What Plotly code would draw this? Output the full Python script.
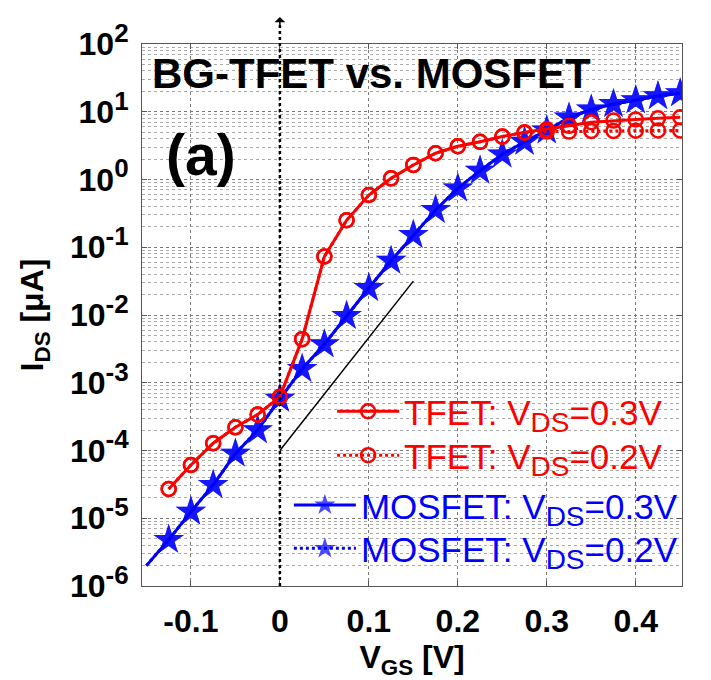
import plotly.graph_objects as go

# ---------------- data ----------------
vgs_mos = [-0.15, -0.125, -0.1, -0.075, -0.05, -0.025, 0.0, 0.025, 0.05, 0.075, 0.1, 0.125,
           0.15, 0.175, 0.2, 0.225, 0.25, 0.275, 0.3, 0.325, 0.35, 0.375, 0.4, 0.425, 0.45]
mos_03 = [2.0e-6, 4.8e-6, 1.25e-5, 3.1e-5, 9.0e-5, 2.0e-4, 5.8e-4, 1.6e-3, 3.7e-3, 9.7e-3, 0.025, 0.063,
          0.152, 0.355, 0.74, 1.35, 2.35, 3.6, 5.3, 8.2, 10.8, 13.0, 14.8, 17.0, 18.7]
mos_02 = [2.0e-6, 4.8e-6, 1.25e-5, 3.1e-5, 9.0e-5, 2.0e-4, 5.8e-4, 1.6e-3, 3.7e-3, 9.7e-3, 0.025, 0.063,
          0.152, 0.355, 0.74, 1.35, 2.35, 3.6, 5.3, 8.2, 10.8, 13.0, 14.8, 17.0, 18.7]

vgs_tfet = [-0.125, -0.1, -0.075, -0.05, -0.025, 0.0, 0.025, 0.05, 0.075, 0.1, 0.125, 0.15,
            0.175, 0.2, 0.225, 0.25, 0.275, 0.3, 0.325, 0.35, 0.375, 0.4, 0.425, 0.45]
tfet_03 = [2.7e-5, 6.1e-5, 1.28e-4, 2.2e-4, 3.4e-4, 6.2e-4, 4.4e-3, 0.073, 0.25, 0.59, 1.04, 1.64,
           2.44, 3.1, 3.6, 4.3, 5.0, 5.5, 6.2, 7.0, 7.4, 7.7, 8.0, 8.3]
tfet_02 = [2.7e-5, 6.1e-5, 1.28e-4, 2.2e-4, 3.4e-4, 6.2e-4, 4.4e-3, 0.073, 0.25, 0.59, 1.04, 1.64,
           2.44, 3.1, 3.6, 4.3, 4.9, 5.1, 5.1, 5.2, 5.2, 5.25, 5.3, 5.3]

# 60 mV/dec reference slope line
ref_x = [0.0, 0.15]
ref_y = [1.0e-4, 3.16e-2]

x_tickvals = [-0.1, 0.0, 0.1, 0.2, 0.3, 0.4]
x_ticktext = ["-0.1", "0", "0.1", "0.2", "0.3", "0.4"]
y_exponents = [-6, -5, -4, -3, -2, -1, 0, 1, 2]

SUB = "<sub><span style='font-size:28px'>DS</span></sub>"
labels = {
    "tfet_03": "TFET: V" + SUB + "=0.3V",
    "tfet_02": "TFET: V" + SUB + "=0.2V",
    "mos_03": "MOSFET: V" + SUB + "=0.3V",
    "mos_02": "MOSFET: V" + SUB + "=0.2V",
}

RED = "#ff0000"
BLUE = "#0000ff"
FONT = "Arial, Liberation Sans, sans-serif"

fig = go.Figure()

star_sizes = [0] + [23] * (len(vgs_mos) - 1)

fig.add_trace(go.Scatter(
    x=vgs_mos, y=mos_03, mode="lines+markers", name=labels["mos_03"], legend="legend3",
    line=dict(color=BLUE, width=3),
    marker=dict(symbol="star", size=star_sizes, color=BLUE, line=dict(width=0)),
))
fig.add_trace(go.Scatter(
    x=vgs_mos, y=mos_02, mode="lines+markers", name=labels["mos_02"], legend="legend4",
    line=dict(color=BLUE, width=3, dash="dot"),
    marker=dict(symbol="star", size=star_sizes, color=BLUE, line=dict(width=0)),
))
fig.add_trace(go.Scatter(
    x=ref_x, y=ref_y, mode="lines", showlegend=False,
    line=dict(color="black", width=1.5),
))
fig.add_trace(go.Scatter(
    x=vgs_tfet, y=tfet_03, mode="lines+markers", name=labels["tfet_03"], legend="legend",
    line=dict(color=RED, width=3),
    marker=dict(symbol="circle-open", size=14, color=RED, line=dict(width=2.5, color=RED)),
))
fig.add_trace(go.Scatter(
    x=vgs_tfet, y=tfet_02, mode="lines+markers", name=labels["tfet_02"], legend="legend2",
    line=dict(color=RED, width=3, dash="dot"),
    marker=dict(symbol="circle-open", size=14, color=RED, line=dict(width=2.5, color=RED)),
))

y_tickvals = [10.0 ** e for e in y_exponents]
y_ticktext = ["10<sup><span style='font-size:26px'>%d</span></sup>" % e for e in y_exponents]
minor_vals = [k * 10.0 ** e for e in y_exponents[:-1] for k in range(2, 10)]


def leg(x, y, color):
    return dict(x=x, y=y, xanchor="left", yanchor="middle", bgcolor="rgba(0,0,0,0)",
                font=dict(size=35, color=color, family=FONT), itemwidth=62)


fig.update_layout(
    width=711, height=680,
    margin=dict(l=142, r=29, t=44, b=94),
    paper_bgcolor="white", plot_bgcolor="white",
    font=dict(family=FONT, color="black"),
    xaxis=dict(
        range=[-0.155, 0.452], tickmode="array", tickvals=x_tickvals, ticktext=x_ticktext,
        tickfont=dict(size=32, weight="bold"), ticklabelstandoff=7,
        showline=True, linecolor="#555", linewidth=1, mirror="ticks",
        ticks="inside", ticklen=5, tickcolor="#555",
        showgrid=True, gridcolor="#777", griddash="dot", gridwidth=1, zeroline=False,
        title=dict(text="V<sub>GS</sub> [V]", font=dict(size=32, weight="bold"), standoff=4),
    ),
    yaxis=dict(
        type="log", range=[-6, 2], tickmode="array", tickvals=y_tickvals, ticktext=y_ticktext,
        tickfont=dict(size=32, weight="bold"), ticklabelstandoff=6,
        showline=True, linecolor="#555", linewidth=1, mirror="ticks",
        ticks="inside", ticklen=5, tickcolor="#555",
        showgrid=True, gridcolor="#777", griddash="dot", gridwidth=1, zeroline=False,
        minor=dict(tickmode="array", tickvals=minor_vals, showgrid=True,
                   gridcolor="#aaa", griddash="dot", gridwidth=1, ticks=""),
        title=dict(text="I<sub>DS</sub> [\u03bcA]", font=dict(size=32, weight="bold"), standoff=16),
    ),
    legend=leg(0.352, 0.322, RED),
    legend2=leg(0.352, 0.241, RED),
    legend3=leg(0.272, 0.149, BLUE),
    legend4=leg(0.272, 0.069, BLUE),
    shapes=[dict(type="line", xref="x", yref="paper", x0=0, x1=0, y0=0, y1=1.05,
                 line=dict(color="black", width=2.5, dash="dot"), layer="above")],
    annotations=[
        dict(text="BG-TFET vs. MOSFET", xref="paper", yref="paper", x=0.015, y=0.945,
             xanchor="left", yanchor="middle", showarrow=False,
             font=dict(size=42, weight="bold", color="black")),
        dict(text="(a)", xref="paper", yref="paper", x=0.109, y=0.795,
             xanchor="center", yanchor="middle", showarrow=False,
             font=dict(size=57, weight="bold", color="black")),
        dict(text="", xref="x", yref="paper", x=0, y=1.05, showarrow=True,
             ax=0, ay=10, arrowhead=1, arrowsize=1.2, arrowwidth=1.5, arrowcolor="black"),
    ],
)

fig.write_html("out.html")
